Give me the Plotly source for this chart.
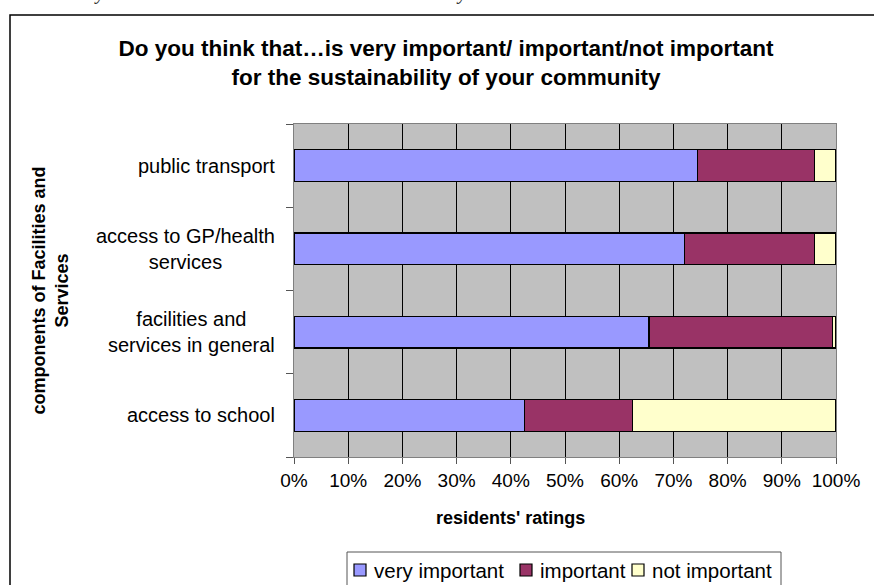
import plotly.graph_objects as go

# Survey results: share of residents giving each rating (percent)
categories = ["access to school",
              "facilities and<br>services in general",
              "access to GP/health<br>services",
              "public transport"]
very_important = [42.5, 65.5, 72.0, 74.5]
important = [20.0, 33.8, 24.1, 21.5]
not_important = [37.5, 0.7, 3.9, 4.0]

series_names = ["very important", "important", "not important"]
series_values = [very_important, important, not_important]
series_colors = ["#9999FF", "#993366", "#FFFFCC"]

x_ticks = list(range(0, 101, 10))
x_tick_labels = [f"{v}%" for v in x_ticks]

W, H = 874, 585
L, R, T, B = 294, 38, 124, 128
PW, PH = W - L - R, H - T - B


def px_x(x):
    """Pixel column -> paper x fraction."""
    return (x - L) / PW


def px_y(y):
    """Pixel row (from top) -> paper y fraction."""
    return (H - B - y) / PH


fig = go.Figure()
for name, vals, col in zip(series_names, series_values, series_colors):
    fig.add_trace(go.Bar(
        y=categories, x=vals, name=name, orientation="h",
        marker=dict(color=col, line=dict(color="#000000", width=1.2)),
        width=0.38, showlegend=False,
    ))

font_family = "Liberation Sans, Arial, sans-serif"

fig.update_layout(
    width=W, height=H,
    margin=dict(l=L, r=R, t=T, b=B),
    barmode="stack",
    paper_bgcolor="white",
    plot_bgcolor="#C0C0C0",
    font=dict(family=font_family, color="#000000", size=16),
    title=dict(
        text="<b>Do you think that…is very important/ important/not important<br>"
             "for the sustainability of your community</b>",
        x=446 / W, xanchor="center", xref="container",
        y=1 - 56 / H, yanchor="middle",
        font=dict(family=font_family, size=22.5, color="#000000"),
    ),
    xaxis=dict(
        range=[0, 100], tickvals=x_ticks, ticktext=x_tick_labels,
        showgrid=True, gridcolor="#000000", gridwidth=1,
        ticks="outside", ticklen=6, tickcolor="#555555",
        showline=True, linecolor="#808080", linewidth=1, mirror=True,
        tickfont=dict(size=19), zeroline=False,
    ),
    yaxis=dict(
        categoryorder="array", categoryarray=categories,
        tickson="boundaries", ticks="outside", ticklen=7, tickcolor="#555555",
        showline=True, linecolor="#808080", linewidth=1, mirror=True,
        showgrid=False, showticklabels=False,
    ),
    bargap=0.62,
)

# category labels, right-aligned block with centred lines
for cat in categories:
    fig.add_annotation(
        text=cat, xref="paper", yref="y", x=px_x(277), y=cat,
        xanchor="right", yanchor="middle", align="center",
        showarrow=False, font=dict(size=20),
    )

# x-axis title
fig.add_annotation(
    text="<b>residents' ratings</b>", xref="paper", yref="paper",
    x=px_x(510), y=px_y(518), xanchor="center", yanchor="middle",
    showarrow=False, font=dict(size=18),
)

# chart frame
fig.add_shape(type="rect", xref="paper", yref="paper",
              x0=px_x(10), x1=px_x(W + 5),
              y0=px_y(H + 20), y1=px_y(15),
              line=dict(color="#000000", width=1.5), fillcolor="rgba(0,0,0,0)",
              layer="below")

# legend box with swatches and labels
fig.add_shape(type="rect", xref="paper", yref="paper",
              x0=px_x(347), x1=px_x(781), y0=px_y(H + 10), y1=px_y(552),
              line=dict(color="#555555", width=1), fillcolor="white")
legend_swatch_x = [354, 520, 632]
for sx, name, col in zip(legend_swatch_x, series_names, series_colors):
    fig.add_shape(type="rect", xref="paper", yref="paper",
                  x0=px_x(sx), x1=px_x(sx + 12),
                  y0=px_y(576), y1=px_y(564),
                  line=dict(color="#000000", width=1.2), fillcolor=col)
    fig.add_annotation(
        text=name, xref="paper", yref="paper",
        x=px_x(sx + 18), y=px_y(570), xanchor="left", yanchor="middle",
        showarrow=False, font=dict(size=20.5),
    )

# y-axis title
fig.add_annotation(
    text="<b>components of Facilities and<br>Services</b>",
    xref="paper", yref="paper",
    x=px_x(50), y=0.5, xanchor="center", yanchor="middle",
    textangle=-90, showarrow=False, font=dict(size=18),
)

# caption line above the chart frame
fig.add_annotation(
    text="<i>as rated by residents and non-residents in the case study areas</i>",
    xref="paper", yref="paper",
    x=px_x(14), y=px_y(-8),
    xanchor="left", yanchor="middle", showarrow=False,
    font=dict(family="Liberation Serif, Times New Roman, serif", size=20, color="#333333"),
)

fig.write_html("out.html")
